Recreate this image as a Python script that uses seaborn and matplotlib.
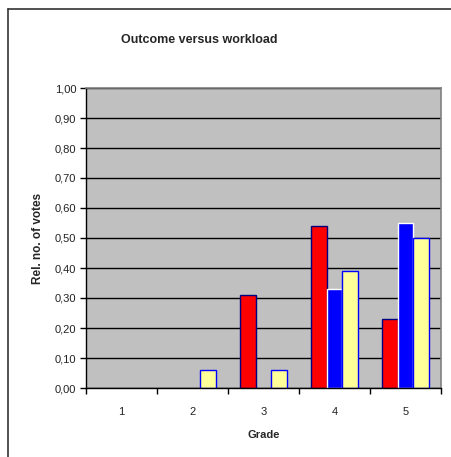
import pandas as pd
import numpy as np
import matplotlib
matplotlib.use("Agg")
import matplotlib.pyplot as plt
import seaborn as sns
from matplotlib.lines import Line2D
from matplotlib.ticker import FuncFormatter, FixedLocator

grades = ["1", "2", "3", "4", "5"]
series = ["Low", "Medium", "High"]
low_vals = [np.nan, np.nan, 0.31, 0.54, 0.23]
medium_vals = [np.nan, np.nan, np.nan, 0.33, 0.55]
high_vals = [np.nan, 0.06, 0.06, 0.39, 0.50]
colors = ["#FF0000", "#0000FF", "#FFFF99"]
edges = ["#000080", "#FFFFFF", "#0000FF"]

df = pd.DataFrame({
    "Grade": grades * 3,
    "Workload": [s for s in series for _ in grades],
    "Votes": low_vals + medium_vals + high_vals,
})

sns.set_style("white")
plt.rcParams["font.family"] = ["Liberation Sans", "DejaVu Sans"]

fig = plt.figure(figsize=(4.51, 4.57), dpi=100)
ax = fig.add_axes([86 / 451, 1 - 388 / 457, 355 / 451, 300 / 457])

sns.barplot(data=df, x="Grade", y="Votes", hue="Workload", order=grades,
            hue_order=series, palette=colors, width=0.65, gap=0,
            saturation=1, legend=False, ax=ax)

# per-series edge colours
for cont, ec in zip(ax.containers, edges):
    for bar in cont:
        bar.set_edgecolor(ec)
        bar.set_linewidth(1.0)

ax.set_facecolor("#C0C0C0")
ax.set_ylim(0, 1.0)
ax.set_xlim(-0.5, 4.5)
ax.set_yticks(np.arange(0, 1.01, 0.1))
ax.yaxis.set_major_formatter(FuncFormatter(lambda v, p: f"{v:.2f}".replace(".", ",")))
ax.yaxis.grid(True, color="black", linewidth=1.0)
ax.set_axisbelow(True)

ax.tick_params(axis="y", direction="out", length=4, width=1, color="black",
               labelsize=8, left=True, pad=3, labelcolor="#222222")
ax.tick_params(axis="x", which="major", length=0, labelsize=8, pad=14,
               labelcolor="#222222")
ax.xaxis.set_minor_locator(FixedLocator(np.arange(-0.5, 4.6, 1.0)))
ax.tick_params(axis="x", which="minor", direction="out", length=4, width=1,
               color="black", bottom=True)

for side in ["top", "right"]:
    ax.spines[side].set_color("#808080")
    ax.spines[side].set_linewidth(1.2)
for side in ["left", "bottom"]:
    ax.spines[side].set_color("black")
    ax.spines[side].set_linewidth(1.0)

ax.set_xlabel("Grade", fontsize=8, fontweight="bold", labelpad=9)
ax.set_ylabel("Rel. no. of votes", fontsize=8.5, fontweight="bold", labelpad=8)
fig.text(199 / 451, 1 - 40 / 457, "Outcome versus workload", fontsize=9,
         fontweight="bold", ha="center", va="center")

# outer chart frame (only top/left visible)
fig.add_artist(Line2D([8 / 451, 8 / 451], [0, 1 - 9 / 457],
                      transform=fig.transFigure, color="#333333", linewidth=1.2))
fig.add_artist(Line2D([8 / 451, 1], [1 - 9 / 457, 1 - 9 / 457],
                      transform=fig.transFigure, color="#333333", linewidth=1.2))

fig.savefig("out.png", dpi=100)
